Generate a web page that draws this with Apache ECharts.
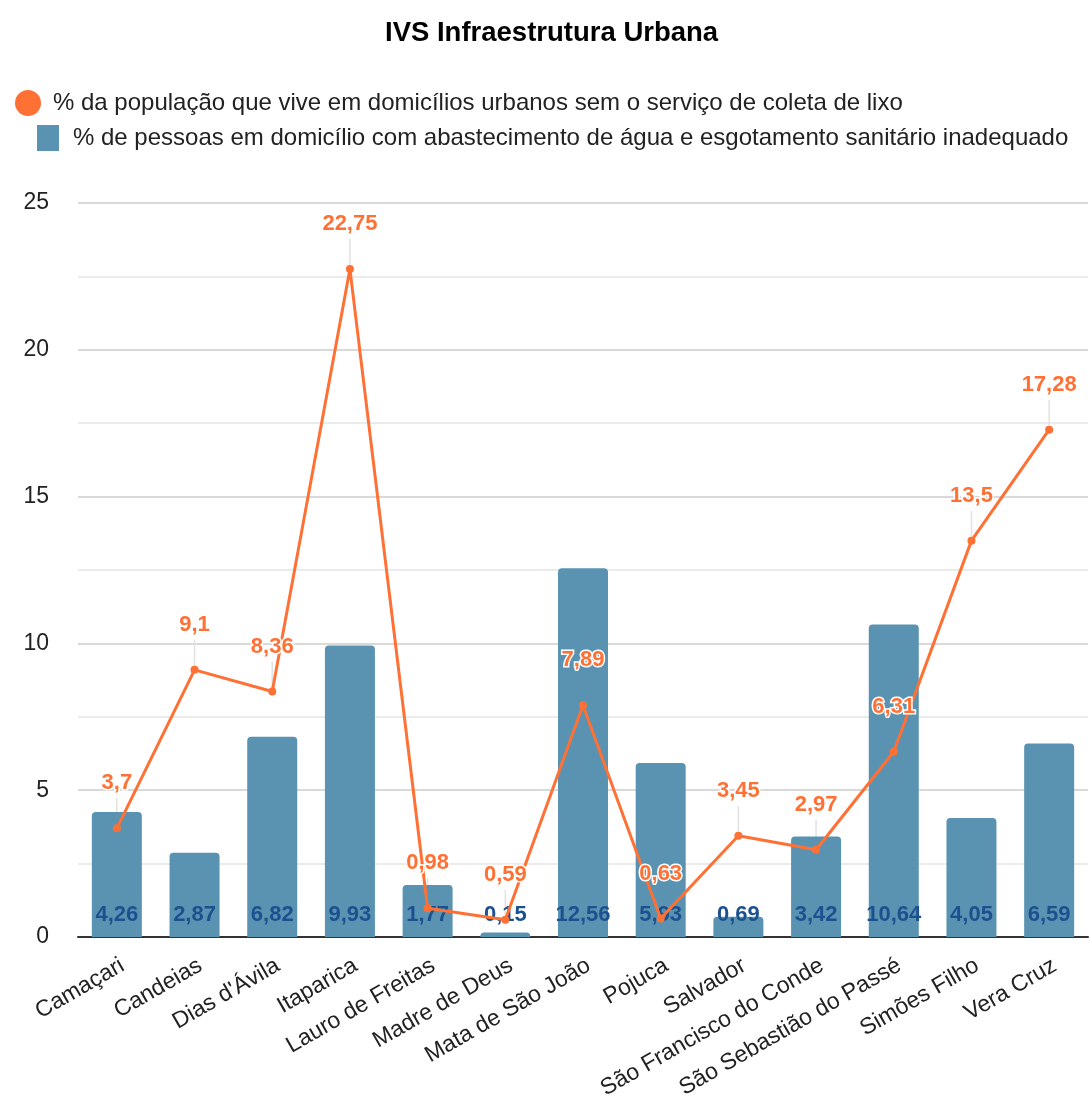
<!DOCTYPE html>
<html>
<head>
<meta charset="utf-8">
<title>IVS Infraestrutura Urbana</title>
<script src="https://cdn.jsdelivr.net/npm/echarts@6/dist/echarts.min.js"></script>
<style>
  html, body { margin: 0; padding: 0; background: #fff; }
  #chart { width: 1090px; height: 1099px; }
</style>
</head>
<body>
<div id="chart"></div>
<script>
const municipios = ['Camaçari', 'Candeias', "Dias d'Ávila", 'Itaparica', 'Lauro de Freitas', 'Madre de Deus',
  'Mata de São João', 'Pojuca', 'Salvador', 'São Francisco do Conde', 'São Sebastião do Passé', 'Simões Filho', 'Vera Cruz']
const semColetaLixo = [3.7, 9.1, 8.36, 22.75, 0.98, 0.59, 7.89, 0.63, 3.45, 2.97, 6.31, 13.5, 17.28]
const aguaEsgotoInadequado = [4.26, 2.87, 6.82, 9.93, 1.77, 0.15, 12.56, 5.93, 0.69, 3.42, 10.64, 4.05, 6.59]

const nomeLinha = '% da população que vive em domicílios urbanos sem o serviço de coleta de lixo'
const nomeBarra = '% de pessoas em domicílio com abastecimento de água e esgotamento sanitário inadequado'

const fmt = p => String(p.value).replace('.', ',')
const fonte = 'Liberation Sans, Arial, sans-serif'

const myChart = echarts.init(document.getElementById('chart'))
myChart.setOption({
  animation: false,
  title: {
    text: 'IVS Infraestrutura Urbana',
    left: 380,
    top: 14,
    textStyle: { fontFamily: fonte, fontSize: 27.5, fontWeight: 'bold', color: '#000' }
  },
  legend: [{
    data: [{ name: nomeLinha, icon: 'circle' }],
    left: 10,
    top: 85,
    itemWidth: 26,
    itemHeight: 26,
    textStyle: { fontFamily: fonte, fontSize: 24, color: '#222', padding: [0, 0, 0, 7] }
  }, {
    data: [{ name: nomeBarra, icon: 'rect' }],
    left: 32,
    top: 120,
    itemWidth: 22,
    itemHeight: 26,
    textStyle: { fontFamily: fonte, fontSize: 24, color: '#222', padding: [0, 0, 0, 9] }
  }],
  grid: { left: 78, right: 2, top: 203, bottom: 162, containLabel: false, outerBoundsMode: 'none' },
  xAxis: {
    type: 'category',
    data: municipios,
    axisTick: { show: false },
    axisLine: { lineStyle: { color: '#333', width: 2 } },
    axisLabel: {
      rotate: 30,
      interval: 0,
      margin: 17,
      verticalAlign: 'top',
      fontFamily: fonte,
      fontSize: 23,
      color: '#222'
    }
  },
  yAxis: {
    type: 'value',
    min: 0,
    max: 25,
    interval: 2.5,
    axisLabel: {
      margin: 29,
      fontFamily: fonte,
      fontSize: 23,
      color: '#222',
      formatter: v => (v % 5 === 0 ? String(v) : '')
    },
    splitLine: {
      lineStyle: {
        color: ['#cccccc', '#e4e4e4', '#cccccc', '#e4e4e4', '#cccccc', '#e4e4e4', '#cccccc', '#e4e4e4', '#cccccc', '#e4e4e4', '#cccccc'],
        width: 1.5
      }
    }
  },
  series: [{
    // finas linhas-guia entre cada ponto e o seu rótulo
    type: 'custom',
    data: semColetaLixo,
    silent: true,
    z: 1,
    renderItem: (params, api) => {
      const p = api.coord([api.value(0), api.value(1)])
      return {
        type: 'line',
        shape: { x1: p[0], y1: p[1] - 4, x2: p[0], y2: p[1] - 30 },
        style: { stroke: '#e2e2e2', lineWidth: 1.5 }
      }
    }
  }, {
    name: nomeBarra,
    type: 'bar',
    data: aguaEsgotoInadequado,
    barWidth: 50,
    itemStyle: { color: '#5a93b1', borderRadius: [4, 4, 0, 0] },
    label: {
      show: true,
      position: 'insideBottom',
      distance: 11,
      formatter: fmt,
      fontFamily: fonte,
      fontSize: 22,
      fontWeight: 'bold',
      color: '#1c5190'
    },
    z: 2
  }, {
    name: nomeLinha,
    type: 'line',
    data: semColetaLixo,
    symbol: 'circle',
    symbolSize: 8,
    lineStyle: { color: '#ff7034', width: 3 },
    itemStyle: { color: '#ff7034' },
    label: {
      show: true,
      position: 'top',
      distance: 30,
      formatter: fmt,
      fontFamily: fonte,
      fontSize: 22,
      fontWeight: 'bold',
      color: '#ff7034',
      textBorderColor: '#fff',
      textBorderWidth: 3
    },
    z: 3
  }]
})
</script>
</body>
</html>
